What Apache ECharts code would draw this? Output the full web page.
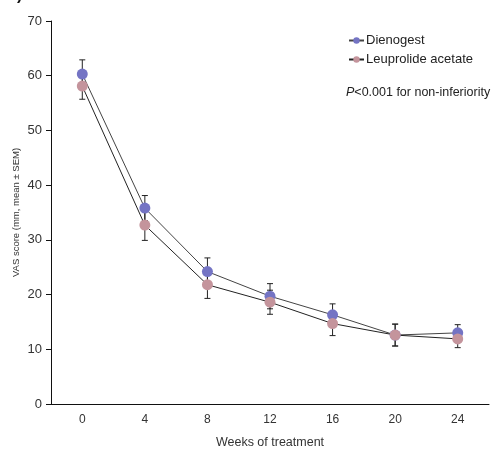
<!DOCTYPE html>
<html>
<head>
<meta charset="utf-8">
<script src="https://cdn.jsdelivr.net/npm/echarts@6/dist/echarts.min.js"></script>
<style>
html, body { margin: 0; padding: 0; background: #fff; }
#main { width: 495px; height: 452px; }
</style>
</head>
<body>
<div id="main"></div>
<script>
var weeks = ['0', '4', '8', '12', '16', '20', '24'];
var dienogest = [60.3, 35.8, 24.2, 19.7, 16.3, 12.6, 13.0];
var dienogestSem = [2.6, 2.3, 2.5, 2.3, 2.0, 2.0, 1.5];
var leuprolide = [58.1, 32.7, 21.8, 18.6, 14.7, 12.6, 11.9];
var leuprolideSem = [2.4, 2.8, 2.5, 2.2, 2.2, 2.0, 1.6];

var chart = echarts.init(document.getElementById('main'));

// 误差线数据 [x, low, high]
function errData(vals, sem) {
	var res = [];
	for (var i = 0; i < vals.length; i++) {
		res.push([i, vals[i] - sem[i], vals[i] + sem[i]]);
	}
	return res;
}

function renderErr(params, api) {
	var lo = api.coord([api.value(0), api.value(1)]);
	var hi = api.coord([api.value(0), api.value(2)]);
	var w = 3;
	var st = { stroke: '#222', lineWidth: 1 };
	return {
		type: 'group',
		children: [
			{ type: 'line', shape: { x1: hi[0], y1: hi[1], x2: lo[0], y2: lo[1] }, style: st },
			{ type: 'line', shape: { x1: hi[0] - w, y1: hi[1], x2: hi[0] + w, y2: hi[1] }, style: st },
			{ type: 'line', shape: { x1: lo[0] - w, y1: lo[1], x2: lo[0] + w, y2: lo[1] }, style: st }
		]
	};
}

var option = {
	backgroundColor: '#fff',
	animation: false,
	textStyle: { fontFamily: 'Liberation Sans, Arial, sans-serif' },
	grid: { left: 51, right: 6, top: 21, bottom: 48, outerBoundsMode: 'none', containLabel: false },
	legend: {
		orient: 'vertical',
		left: 343,
		top: 29,
		itemWidth: 15,
		itemHeight: 8,
		itemGap: 6,
		data: ['Dienogest', 'Leuprolide acetate'],
		textStyle: { fontSize: 13, color: '#222', padding: [0, 0, 0, -3] }
	},
	graphic: [{
		type: 'text',
		left: 346,
		top: 86,
		style: {
			text: '{i|P}<0.001 for non-inferiority',
			fill: '#222',
			font: '12.5px Liberation Sans, Arial, sans-serif',
			rich: { i: { fontStyle: 'italic', fontSize: 12.5, fill: '#222' } }
		}
	}, {
		type: 'text',
		left: 17,
		top: -12,
		style: { text: ')', fill: '#111', font: 'bold 16px Liberation Sans, Arial, sans-serif' }
	}],
	xAxis: {
		type: 'category',
		data: weeks,
		boundaryGap: true,
		name: 'Weeks of treatment',
		nameLocation: 'middle',
		nameGap: 32,
		nameMoveOverlap: false,
		nameTextStyle: { fontSize: 12.5, color: '#333' },
		axisLine: { lineStyle: { color: '#111', width: 1 } },
		axisTick: { length: 5, lineStyle: { color: '#111' } },
		axisLabel: { fontSize: 12, color: '#333', margin: 10 }
	},
	yAxis: {
		type: 'value',
		min: 0,
		max: 70,
		interval: 10,
		name: 'VAS score (mm, mean \u00b1 SEM)',
		nameLocation: 'middle',
		nameGap: 30,
		nameMoveOverlap: false,
		nameTextStyle: { fontSize: 9.5, color: '#333' },
		axisLine: { show: true, lineStyle: { color: '#111', width: 1 } },
		axisTick: { show: true, length: 5, lineStyle: { color: '#111' } },
		axisLabel: { fontSize: 13, color: '#333', margin: 9 },
		splitLine: { show: false }
	},
	series: [{
		name: 'Dienogest',
		type: 'line',
		data: dienogest,
		symbol: 'circle',
		symbolSize: 11,
		z: 3,
		itemStyle: { color: '#7474c4' },
		lineStyle: { color: '#444', width: 1 }
	}, {
		name: 'Leuprolide acetate',
		type: 'line',
		data: leuprolide,
		symbol: 'circle',
		symbolSize: 11,
		z: 3,
		itemStyle: { color: '#c4949c' },
		lineStyle: { color: '#222', width: 1 }
	}, {
		type: 'custom',
		renderItem: renderErr,
		data: errData(dienogest, dienogestSem),
		z: 2
	}, {
		type: 'custom',
		renderItem: renderErr,
		data: errData(leuprolide, leuprolideSem),
		z: 2
	}]
};
chart.setOption(option);
</script>
</body>
</html>
